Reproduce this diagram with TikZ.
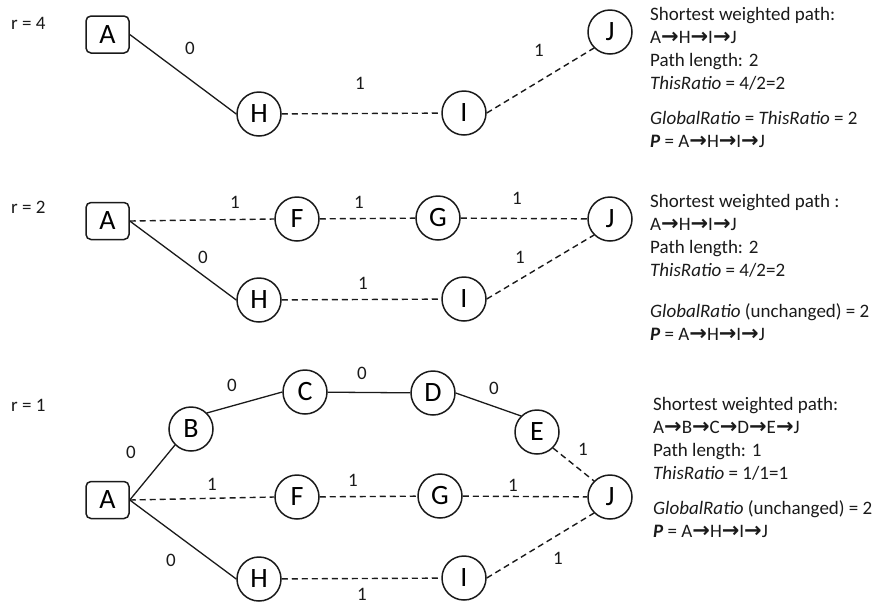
\documentclass[tikz,border=0pt]{standalone}
\usepackage{fontspec}
\setmainfont{Carlito}
\newfontfamily\arrowfont{DejaVu Sans}
\definecolor{ink}{HTML}{1A1A1A}
\newcommand{\txt}{\fontsize{19}{23}\selectfont}
\newcommand{\pto}{{\arrowfont\bfseries\fontsize{21}{23}\selectfont →}}
\tikzset{rootbox/.style={draw=ink,line width=1.5pt,rounded corners=5pt,
    minimum width=43pt,minimum height=37pt,inner sep=0,font=\fontsize{28}{30}\selectfont},
  vertex/.style={circle,draw=ink,line width=1.5pt,minimum size=44pt,inner sep=0,
    font=\fontsize{28}{30}\selectfont},
  solidedge/.style={ink,line width=1.3pt},
  dashedge/.style={ink,line width=1.4pt,dash pattern=on 6pt off 4pt},
  weight/.style={inner sep=0,text=ink,font=\txt},
  info/.style={inner sep=0,anchor=north west,align=left,text=ink,font=\txt}}

\begin{document}
\begin{tikzpicture}[x=1pt,y=-1pt]
\useasboundingbox (0,0) rectangle (881,606);
% r = 4
\node[weight,anchor=west] (r4) at (11,23) {r = 4};
\node[rootbox] (a4) at (107.5,34.5) {A};
\node[vertex] (h4) at (259,114) {H};
\node[vertex] (i4) at (464,113) {I};
\node[vertex] (j4) at (610,32) {J};
\draw[solidedge] (a4.east) -- (h4.west);
\draw[dashedge] (h4) -- (i4);
\draw[dashedge] (i4.east) -- (j4.south west);
\node[weight] (w4a) at (190,48) {0};
\node[weight] (w4b) at (360,83) {1};
\node[weight] (w4c) at (539,50) {1};
\node[info] (t4a) at (650,7) {Shortest weighted path:\\A\pto H\pto I\pto J\\Path length: 2\\\textit{ThisRatio} = 4/2=2};
\node[info] (t4b) at (650,111) {\textit{GlobalRatio} = \textit{ThisRatio} = 2\\\textbf{\textit{P}} = A\pto H\pto I\pto J};
% r = 2
\node[weight,anchor=west] (r2) at (11,207) {r = 2};
\node[rootbox] (a2) at (107.5,221) {A};
\node[vertex] (f2) at (297,219) {F};
\node[vertex] (g2) at (438,218) {G};
\node[vertex] (j2) at (610,219) {J};
\node[vertex] (h2) at (259,300) {H};
\node[vertex] (i2) at (464,299) {I};
\draw[dashedge] (a2.east) -- (f2.west);
\draw[dashedge] (f2) -- (g2);
\draw[dashedge] (g2) -- (j2);
\draw[solidedge] (a2.east) -- (h2.west);
\draw[dashedge] (h2) -- (i2);
\draw[dashedge] (i2.east) -- (j2.south west);
\node[weight] (w2a) at (235,202) {1};
\node[weight] (w2b) at (359,202) {1};
\node[weight] (w2c) at (517,198) {1};
\node[weight] (w2d) at (203,257) {0};
\node[weight] (w2e) at (363,283) {1};
\node[weight] (w2f) at (520,257) {1};
\node[info] (t2a) at (650,194) {Shortest weighted path :\\A\pto H\pto I\pto J\\Path length: 2\\\textit{ThisRatio} = 4/2=2};
\node[info] (t2b) at (650,303) {\textit{GlobalRatio} (unchanged) = 2\\\textbf{\textit{P}} = A\pto H\pto I\pto J};
% r = 1
\node[weight,anchor=west] (r1) at (11,405) {r = 1};
\node[rootbox] (a1) at (107.5,500) {A};
\node[vertex] (b1) at (191,429) {B};
\node[vertex] (c1) at (305,392) {C};
\node[vertex] (d1) at (433,393) {D};
\node[vertex] (e1) at (537,432) {E};
\node[vertex] (f1) at (297,497) {F};
\node[vertex] (g1) at (440,496) {G};
\node[vertex] (j1) at (610,497) {J};
\node[vertex] (h1) at (259,579) {H};
\node[vertex] (i1) at (464,578) {I};
\draw[solidedge] (a1.east) -- (b1.south west);
\draw[solidedge] (b1.north east) -- (c1.west);
\draw[solidedge] (c1) -- (d1);
\draw[solidedge] (d1.east) -- (e1.north west);
\draw[dashedge] (e1.south east) -- (j1.north west);
\draw[dashedge] (a1.east) -- (f1.west);
\draw[dashedge] (f1) -- (g1);
\draw[dashedge] (g1) -- (j1);
\draw[solidedge] (a1.east) -- (h1.west);
\draw[dashedge] (h1) -- (i1);
\draw[dashedge] (i1.east) -- (j1.south west);
\node[weight] (w1a) at (131,452) {0};
\node[weight] (w1b) at (232,385) {0};
\node[weight] (w1c) at (362,373) {0};
\node[weight] (w1d) at (494,388) {0};
\node[weight] (w1e) at (583,449) {1};
\node[weight] (w1f) at (212,484) {1};
\node[weight] (w1g) at (353,480) {1};
\node[weight] (w1h) at (513,485) {1};
\node[weight] (w1i) at (171,560) {0};
\node[weight] (w1j) at (362,594) {1};
\node[weight] (w1k) at (558,558) {1};
\node[info] (t1a) at (653,397) {Shortest weighted path:\\A\pto B\pto C\pto D\pto E\pto J\\Path length: 1\\\textit{ThisRatio} = 1/1=1};
\node[info] (t1b) at (653,500) {\textit{GlobalRatio} (unchanged) = 2\\\textbf{\textit{P}} = A\pto H\pto I\pto J};
\end{tikzpicture}
\end{document}
